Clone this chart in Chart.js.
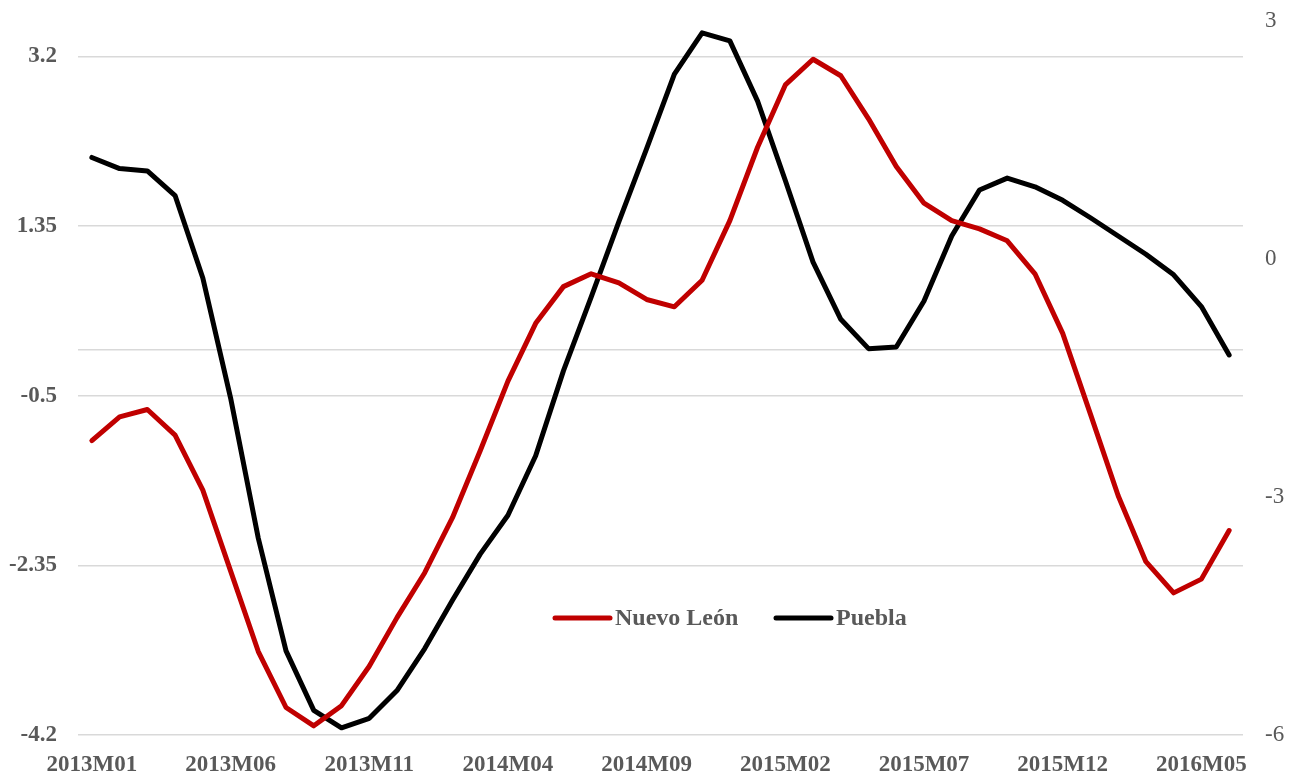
<!DOCTYPE html>
<html>
<head>
<meta charset="utf-8">
<script src="https://cdn.jsdelivr.net/npm/chart.js@4"></script>
<style>
html,body{margin:0;padding:0;background:#fff;}
#wrap{width:1300px;height:777px;position:relative;}
</style>
</head>
<body>
<div id="wrap"><canvas id="c" width="1300" height="777"></canvas></div>
<script>
const categories = [
 "2013M01","2013M02","2013M03","2013M04","2013M05","2013M06","2013M07","2013M08","2013M09","2013M10","2013M11","2013M12",
 "2014M01","2014M02","2014M03","2014M04","2014M05","2014M06","2014M07","2014M08","2014M09","2014M10","2014M11","2014M12",
 "2015M01","2015M02","2015M03","2015M04","2015M05","2015M06","2015M07","2015M08","2015M09","2015M10","2015M11","2015M12",
 "2016M01","2016M02","2016M03","2016M04","2016M05","2016M06"
];
const nuevoLeon = [
 -0.99,-0.73,-0.65,-0.93,-1.53,-2.41,-3.29,-3.90,-4.10,-3.88,-3.45,-2.92,
 -2.43,-1.83,-1.10,-0.34,0.29,0.69,0.83,0.73,0.55,0.47,0.76,1.41,
 2.21,2.89,3.17,2.99,2.52,2.00,1.60,1.41,1.32,1.19,0.83,0.18,
 -0.70,-1.59,-2.31,-2.65,-2.50,-1.97
];
const puebla = [
 1.28,1.14,1.11,0.80,-0.24,-1.75,-3.52,-4.94,-5.69,-5.91,-5.79,-5.44,
 -4.91,-4.30,-3.72,-3.23,-2.48,-1.41,-0.48,0.47,1.39,2.33,2.85,2.75,
 1.99,0.99,-0.04,-0.76,-1.13,-1.11,-0.53,0.29,0.87,1.02,0.91,0.74,
 0.52,0.29,0.06,-0.20,-0.60,-1.21
];
const leftTicks = [-4.2, -2.35, -0.5, 1.35, 3.2];
const rightTicks = [-6, -3, 0, 3];
const seriesNames = ["Nuevo León", "Puebla"];
const seriesColors = ["#C00000", "#000000"];

const FONT = "'Liberation Serif', 'Times New Roman', serif";
const GRAY = "#595959";

const legendPlugin = {
  id: 'innerLegend',
  afterDraw(chart) {
    const ctx = chart.ctx;
    const items = [
      {x1: 555, x2: 610, tx: 615},
      {x1: 776, x2: 831, tx: 836}
    ];
    ctx.save();
    chart.data.datasets.forEach((ds, i) => {
      const it = items[i];
      ctx.strokeStyle = ds.borderColor;
      ctx.lineWidth = 5;
      ctx.lineCap = 'round';
      ctx.beginPath();
      ctx.moveTo(it.x1, 618);
      ctx.lineTo(it.x2, 618);
      ctx.stroke();
      ctx.fillStyle = GRAY;
      ctx.font = "bold 24px " + FONT;
      ctx.textBaseline = 'alphabetic';
      ctx.textAlign = 'left';
      ctx.fillText(ds.label, it.tx, 625);
    });
    ctx.restore();
  }
};

function fixV(width) {
  return s => { s.width = width; s.paddingTop = 0; s.paddingBottom = 0; };
}

new Chart(document.getElementById('c'), {
  type: 'line',
  data: {
    labels: categories,
    datasets: [
      {label: seriesNames[0], data: nuevoLeon, yAxisID: 'y', borderColor: seriesColors[0], backgroundColor: seriesColors[0],
       borderWidth: 5, pointRadius: 0, tension: 0, borderCapStyle: 'round', borderJoinStyle: 'round'},
      {label: seriesNames[1], data: puebla, yAxisID: 'y1', borderColor: seriesColors[1], backgroundColor: seriesColors[1],
       borderWidth: 5, pointRadius: 0, tension: 0, borderCapStyle: 'round', borderJoinStyle: 'round'}
    ]
  },
  options: {
    responsive: false,
    animation: false,
    layout: {padding: {left: 0, right: 0, top: 21, bottom: 0}},
    plugins: {legend: {display: false}, tooltip: {enabled: false}},
    scales: {
      x: {
        type: 'category',
        offset: true,
        grid: {display: false},
        border: {display: false},
        ticks: {
          autoSkip: false, maxRotation: 0, minRotation: 0, padding: 8,
          color: GRAY, font: {family: FONT, size: 23, weight: 'bold'},
          callback: function(v, i) { return i % 5 === 0 ? categories[i] : ''; }
        },
        afterFit: s => { s.height = 42; s.paddingLeft = 0; s.paddingRight = 0; }
      },
      y: {
        position: 'left',
        min: -4.2, max: 3.587,
        afterBuildTicks: s => { s.ticks = leftTicks.concat([0]).map(v => ({value: v})); },
        grid: {color: '#d9d9d9', lineWidth: 1.5, drawTicks: false},
        border: {display: false},
        ticks: {
          padding: 21, color: GRAY, font: {family: FONT, size: 23, weight: 'bold'},
          callback: v => (leftTicks.indexOf(v) >= 0 ? String(v) : '')
        },
        afterFit: fixV(78)
      },
      y1: {
        position: 'right',
        min: -6, max: 3,
        afterBuildTicks: s => { s.ticks = rightTicks.map(v => ({value: v})); },
        grid: {display: false, drawTicks: false},
        border: {display: false},
        ticks: {
          padding: 22, color: GRAY, font: {family: FONT, size: 23, weight: 'normal'},
          callback: v => String(v)
        },
        afterFit: fixV(57)
      }
    }
  },
  plugins: [legendPlugin]
});
</script>
</body>
</html>
